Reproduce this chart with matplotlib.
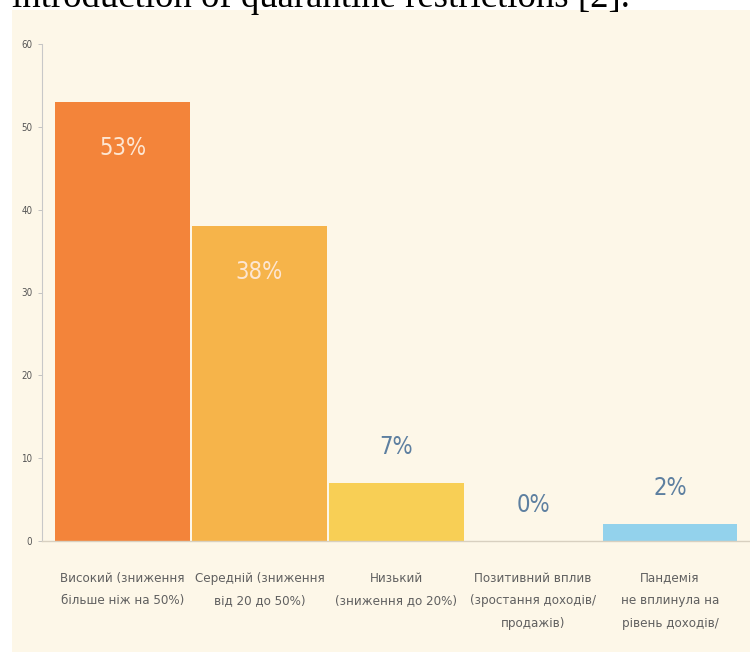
import matplotlib.pyplot as plt
from matplotlib.patches import Rectangle
from matplotlib import font_manager

# Дані з діаграми
categories = [
    "Високий (зниження\nбільше ніж на 50%)",
    "Середній (зниження\nвід 20 до 50%)",
    "Низький\n(зниження до 20%)",
    "Позитивний вплив\n(зростання доходів/\nпродажів)",
    "Пандемія\nне вплинула на\nрівень доходів/",
]
values = [53, 38, 7, 0, 2]
value_labels = ["53%", "38%", "7%", "0%", "2%"]
yticks = [0, 10, 20, 30, 40, 50, 60]

bar_colors = ["#F3843A", "#F6B44A", "#F8CF55", "#E8DCC8", "#93D2EC"]

cond = font_manager.FontProperties(family="DejaVu Sans", stretch="condensed")

fig = plt.figure(figsize=(7.5, 6.52), dpi=100)
fig.patch.set_facecolor("white")

# кремовий фон картинки
bg = Rectangle((12 / 750, 0), 1, 1 - 10 / 652, transform=fig.transFigure,
               facecolor="#FDF7E8", edgecolor="none", zorder=-5)
fig.add_artist(bg)
# обрізаний рядок тексту зверху (так у оригіналі)
fig.text(12 / 750, 1 - 7 / 652, "introduction of quarantine restrictions [2].",
         family="Liberation Serif", fontsize=26.5, color="black", va="baseline", zorder=-4)

ax = fig.add_axes([42 / 750, 111 / 652, 1 - 42 / 750, (541 - 44) / 652])
ax.set_facecolor("none")
ax.set_zorder(2)

x = list(range(len(values)))
ax.bar(x, values, width=0.985, color=bar_colors, zorder=2)

for i, (v, lab) in enumerate(zip(values, value_labels)):
    if v > 20:
        ax.text(i, v - 5.5, lab, ha="center", va="center",
                color="#FDE6D2", fontproperties=cond, size=17)
    else:
        ax.text(i, v + 4.4, lab, ha="center", va="center",
                color="#5D7FA0", fontproperties=cond, size=17)

ax.set_xlim(-0.588, 4.584)
ax.set_ylim(0, 60)
ax.set_yticks(yticks)
ax.set_yticklabels([str(t) for t in yticks], color="#555555", fontproperties=cond, size=7)
ax.tick_params(axis="y", length=3, width=0.6, color="#BBBBBB", pad=4)
ax.set_xticks(x)
ax.set_xticklabels(categories, color="#606060", fontproperties=cond, size=9.5, linespacing=1.95)
ax.tick_params(axis="x", length=0, pad=22)

for s in ["top", "right"]:
    ax.spines[s].set_visible(False)
ax.spines["left"].set_color("#C8C8C8")
ax.spines["left"].set_linewidth(0.8)
ax.spines["bottom"].set_color("#D8D0C0")
ax.spines["bottom"].set_linewidth(1.0)

fig.savefig("out.png", dpi=100, facecolor=fig.get_facecolor())
